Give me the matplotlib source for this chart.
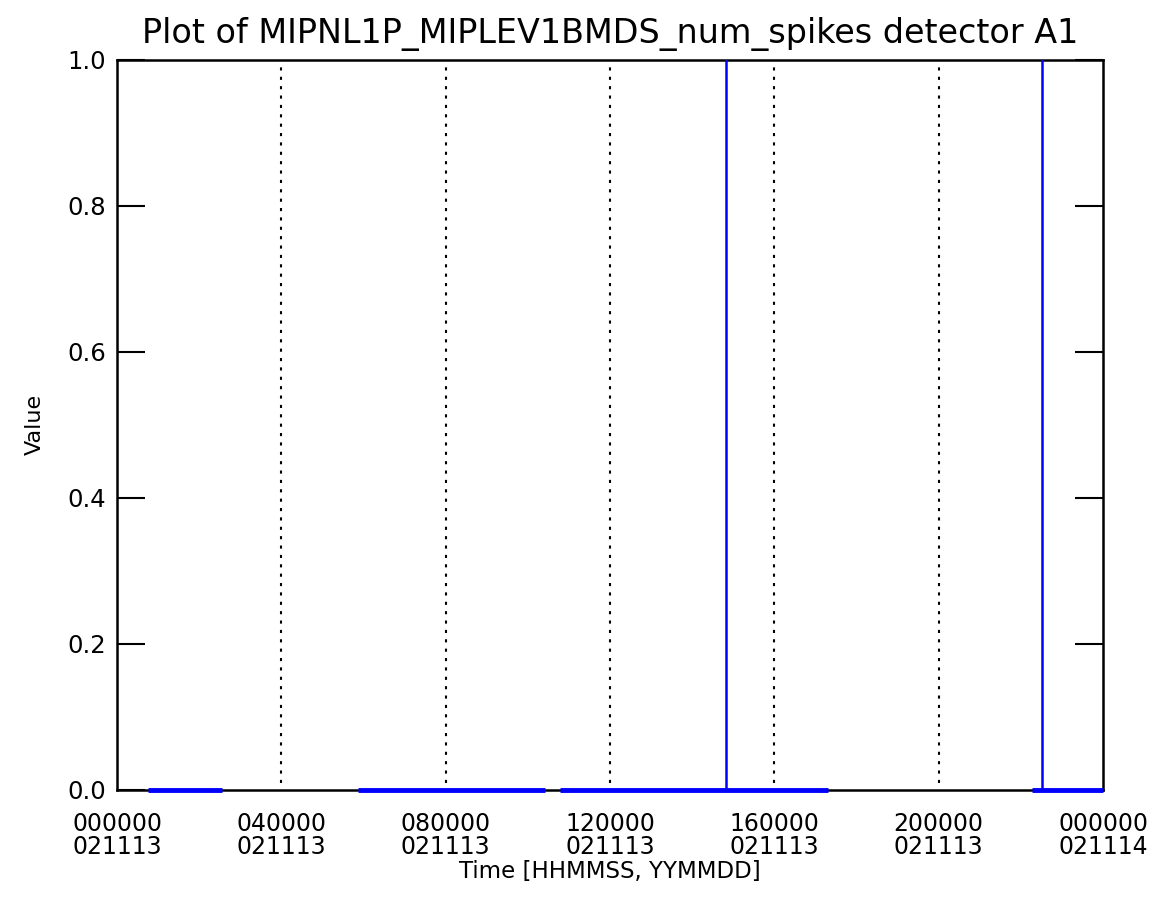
import numpy as np
from matplotlib import pyplot as plt

# time in seconds from 000000 021113
seg_starts = [2700, 21100, 38800, 80200]
seg_ends = [9200, 37500, 62300, 86400]
spike_times = [53350, 81050]
spike_values = [1.0, 1.0]

tick_secs = [0, 14400, 28800, 43200, 57600, 72000, 86400]
tick_labels = ["000000\n021113", "040000\n021113", "080000\n021113",
               "120000\n021113", "160000\n021113", "200000\n021113",
               "000000\n021114"]
y_ticks = [0.0, 0.2, 0.4, 0.6, 0.8, 1.0]

blue = "#0000ff"


def main():
    plt.rcParams['font.family'] = ['DejaVu Sans']
    fig = plt.figure(figsize=(11.6, 9.07), dpi=100)
    ax = fig.add_axes([0.1009, 0.129, 0.85, 0.805])

    for s, e in zip(seg_starts, seg_ends):
        ax.plot([s, e], [0, 0], color=blue, lw=3.5, solid_capstyle='butt',
                clip_on=False, zorder=3)
    for t, v in zip(spike_times, spike_values):
        ax.plot([t, t], [0, v], color=blue, lw=1.8, zorder=3)

    for t in tick_secs[1:-1]:
        ax.plot([t, t], [0.01, 0.99], color='black', lw=1.5,
                ls=(0, (1.5, 3)), zorder=1)

    ax.set_xlim(0, 86400)
    ax.set_ylim(0, 1)
    ax.set_xticks(tick_secs)
    ax.set_xticklabels(tick_labels, fontsize=17, linespacing=0.92)
    ax.set_yticks(y_ticks)
    ax.set_yticklabels(["%.1f" % v for v in y_ticks], fontsize=17.5)
    ax.tick_params(axis='x', length=0, pad=16)
    ax.tick_params(axis='y', direction='in', length=20, width=1.5,
                   right=True, pad=8)
    for sp in ax.spines.values():
        sp.set_linewidth(1.8)

    ax.set_title("Plot of MIPNL1P_MIPLEV1BMDS_num_spikes detector A1",
                 fontsize=24, pad=12)
    ax.set_xlabel("Time [HHMMSS, YYMMDD]", fontsize=16.5, labelpad=1)
    ax.set_ylabel("Value", fontsize=16, labelpad=16)

    fig.savefig("out.png", dpi=100)
    plt.close(fig)


if __name__ == "__main__":
    main()
